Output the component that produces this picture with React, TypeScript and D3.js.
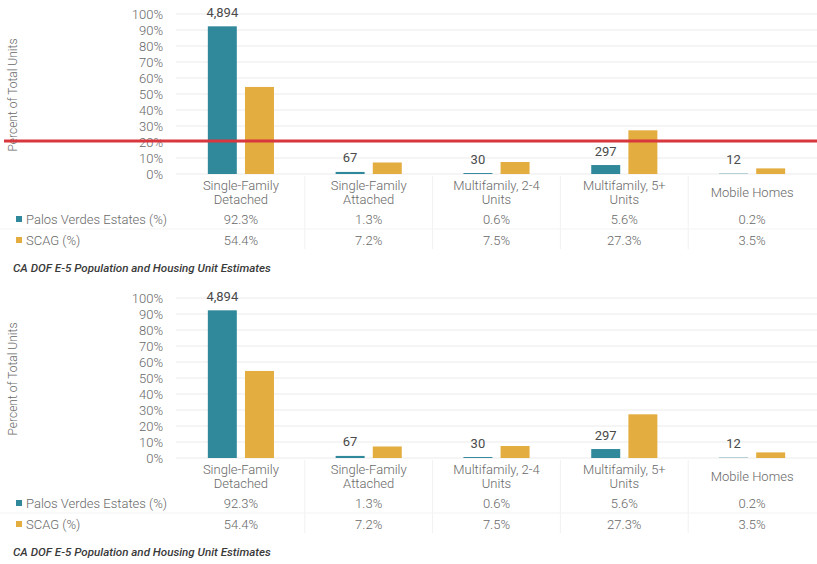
import * as d3 from 'd3';

// category labels (split into lines), series values and counts
const categories = ['Single-Family Detached', 'Single-Family Attached', 'Multifamily, 2-4 Units', 'Multifamily, 5+ Units', 'Mobile Homes'];
const categoryLines = [['Single-Family', 'Detached'], ['Single-Family', 'Attached'], ['Multifamily, 2-4', 'Units'], ['Multifamily, 5+', 'Units'], ['Mobile Homes']];
const pvePct = [92.3, 1.3, 0.6, 5.6, 0.2];
const scagPct = [54.4, 7.2, 7.5, 27.3, 3.5];
const pveCounts = [4894, 67, 30, 297, 12];
const yTicks = [0, 10, 20, 30, 40, 50, 60, 70, 80, 90, 100];
const seriesNames = ['Palos Verdes Estates (%)', 'SCAG (%)'];
const source = 'CA DOF E-5 Population and Housing Unit Estimates';

const TEAL = '#30889b';
const GOLD = '#e3ad40';
const TEXT = '#686868';
const FONT = 'Roboto, "Liberation Sans", sans-serif';

function Chart({ top, marker }: { top: number; marker?: boolean }) {
  const x = d3.scaleBand<string>().domain(categories).range([177, 816]);
  const x1 = d3.scaleBand<string>().domain(['pve', 'scag']).range([0, x.bandwidth()]).paddingInner(0.22).paddingOuter(0.83);
  const y = d3.scaleLinear().domain([0, 100]).range([top + 174, top + 14]);
  const fmt = d3.format(',');
  const row1 = top + 219;
  const row2 = top + 240;

  return (
    <g fontFamily={FONT} fontWeight={300}>
      {/* gridlines + y ticks */}
      {yTicks.map(t => (
        <g key={t}>
          <line x1={176} x2={817} y1={y(t)} y2={y(t)} stroke="#ebebeb" strokeWidth={1} />
          <text x={163} y={y(t)} dy="0.35em" textAnchor="end" fontSize={13} fill={TEXT}>{t}%</text>
        </g>
      ))}
      <text transform={`translate(13,${top + 95}) rotate(-90)`} textAnchor="middle" dy="0.35em" fontSize={12} fill={TEXT}>
        Percent of Total Units
      </text>

      {/* table separators */}
      {categories.slice(1).map(c => (
        <line key={c} x1={x(c)!} x2={x(c)!} y1={top + 176} y2={top + 249} stroke="#f1f1f1" />
      ))}
      <line x1={0} x2={817} y1={top + 229} y2={top + 229} stroke="#f3f3f3" />

      {/* bars */}
      {categories.map((c, i) => (
        <g key={c} transform={`translate(${x(c)},0)`}>
          <rect x={x1('pve')} width={x1.bandwidth()} y={y(pvePct[i])} height={y(0) - y(pvePct[i])} fill={TEAL} />
          <rect x={x1('scag')} width={x1.bandwidth()} y={y(scagPct[i])} height={y(0) - y(scagPct[i])} fill={GOLD} />
          <text x={x1('pve')! + x1.bandwidth() / 2} y={y(pvePct[i]) - 14} dy="0.35em" textAnchor="middle" fontSize={13} fontWeight={400} fill="#4a4a4a">
            {fmt(pveCounts[i])}
          </text>
        </g>
      ))}

      {/* category labels */}
      {categories.map((c, i) => {
        const cx = x(c)! + x.bandwidth() / 2;
        const lines = categoryLines[i];
        return (
          <g key={c}>
            {lines.length === 1 ? (
              <text x={cx} y={top + 192} dy="0.35em" textAnchor="middle" fontSize={13} fill={TEXT}>{lines[0]}</text>
            ) : (
              lines.map((l, j) => (
                <text key={j} x={cx} y={top + 185 + j * 14.5} dy="0.35em" textAnchor="middle" fontSize={13} fill={TEXT}>{l}</text>
              ))
            )}
            <text x={cx} y={row1} dy="0.35em" textAnchor="middle" fontSize={13} fill={TEXT}>{pvePct[i].toFixed(1)}%</text>
            <text x={cx} y={row2} dy="0.35em" textAnchor="middle" fontSize={13} fill={TEXT}>{scagPct[i].toFixed(1)}%</text>
          </g>
        );
      })}

      {/* legend rows */}
      <rect x={16} y={row1 - 3} width={6} height={6} fill={TEAL} />
      <text x={26} y={row1} dy="0.35em" fontSize={13} fill={TEXT}>{seriesNames[0]}</text>
      <rect x={16} y={row2 - 3} width={6} height={6} fill={GOLD} />
      <text x={26} y={row2} dy="0.35em" fontSize={13} fill={TEXT}>{seriesNames[1]}</text>

      <text x={13} y={top + 268} dy="0.35em" fontSize={11.6} fontStyle="italic" fontWeight={500} fill="#3a3a3a">{source}</text>

      {marker && <line x1={4} x2={817} y1={top + 141} y2={top + 141} stroke="#d7373d" strokeWidth={3} />}
    </g>
  );
}

export default function App() {
  return (
    <svg width={817} height={564} style={{ position: 'absolute', left: 0, top: 0, background: '#fff' }}>
      <rect width={817} height={564} fill="#fff" />
      <Chart top={0} marker />
      <Chart top={284} />
    </svg>
  );
}
